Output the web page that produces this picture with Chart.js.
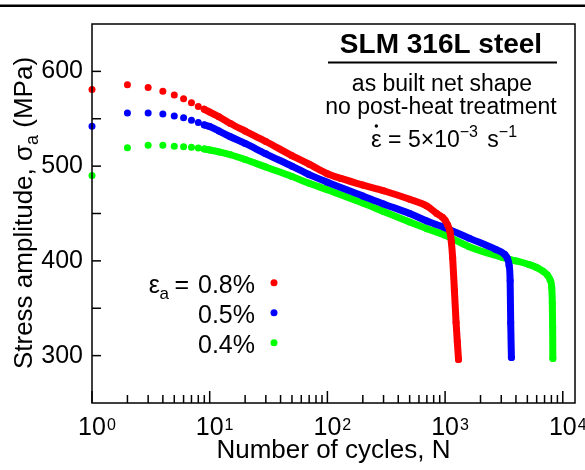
<!DOCTYPE html>
<html>
<head>
<meta charset="utf-8">
<script src="https://cdn.jsdelivr.net/npm/chart.js@4.4.0/dist/chart.umd.min.js"></script>
<style>
  html, body { margin: 0; padding: 0; background: #fff; }
  #wrap { width: 585px; height: 470px; }
</style>
</head>
<body>
<div id="wrap"><canvas id="cyclicChart"></canvas></div>
<script>
// number of cycles N and stress amplitude (MPa)
const redN   = [1, 2, 3, 4, 5, 6, 7, 8, 9, 10, 12, 15, 20, 30, 50, 70, 100, 130, 200, 300, 500, 700, 850, 950, 1000, 1050, 1100, 1130, 1160, 1200, 1240, 1270, 1300];
const redS   = [581, 586, 583, 579, 575, 571, 567, 563, 560, 557, 552, 545, 537, 526, 511, 502, 492, 487, 480, 474, 465, 458, 450, 446, 443, 438, 431, 420, 403, 369, 335, 315, 296];
const blueN  = [1, 2, 3, 4, 5, 6, 7, 8, 9, 10, 12, 15, 20, 30, 50, 70, 100, 200, 300, 500, 700, 1000, 1600, 2700, 3200, 3370, 3500, 3570, 3610, 3660];
const blueS  = [542, 556, 556, 555, 553, 551, 548.5, 546, 543.5, 541.7, 537, 531, 524, 513, 500, 491, 483, 468.5, 460, 450, 442, 435, 424, 412, 407, 403, 395, 379, 335, 298];
const greenN = [1, 2, 3, 4, 5, 6, 7, 8, 9, 10, 12, 15, 20, 30, 50, 70, 100, 200, 300, 500, 700, 1000, 1600, 3000, 4000, 5200, 6000, 6800, 7400, 7800, 8050, 8150, 8200, 8230];
const greenS = [490, 519.5, 522, 522, 521, 520.5, 520, 519, 518, 517, 515, 512, 507, 499, 489, 482, 475, 461, 452, 441, 434, 427, 415, 404, 400, 396, 393, 389, 385, 380, 372, 355, 330, 297];

const strainLabels = ["0.8%", "0.5%", "0.4%"];
const seriesColors = ["#ff0000", "#0000ff", "#00ff00"];
const xTickExponents = { 1: "0", 10: "1", 100: "2", 1000: "3", 10000: "4" };
const yTickLabels = [300, 400, 500, 600];
const noteLines = ["SLM 316L steel", "as built net shape", "no post-heat treatment"];

const FONT = "'Liberation Sans', Arial, sans-serif";
Chart.defaults.font.family = FONT;
Chart.defaults.color = "#000";

const pairs = (ns, ss) => ns.map((n, i) => ({ x: n, y: ss[i] }));

function series(label, ns, ss, color) {
    return {
        label: label,
        data: pairs(ns, ss),
        borderColor: color,
        backgroundColor: color,
        pointBackgroundColor: color,
        pointBorderWidth: 0,
        pointRadius: 3.5,
        borderWidth: 7,
        borderCapStyle: "round",
        borderJoinStyle: "round",
        cubicInterpolationMode: "monotone",
        clip: false,
        // early cycles are single dots, later ones merge into a band
        segment: { borderColor: ctx => ctx.p0.parsed.x < 9 ? "rgba(0,0,0,0)" : undefined }
    };
}

const decor = {
    id: "decor",
    afterDraw(chart) {
        const { ctx, chartArea: a, scales: { x, y } } = chart;
        ctx.save();

        // thick rule along the top of the figure
        ctx.fillStyle = "#000";
        ctx.fillRect(0, 4.5, 585, 2.5);

        // frame and inward ticks
        ctx.strokeStyle = "#000";
        ctx.lineWidth = 1.5;
        ctx.strokeRect(a.left, a.top, a.right - a.left, a.bottom - a.top);
        x.ticks.forEach(t => {
            const e = Math.floor(Math.log10(t.value) + 1e-9);
            const m = t.value / Math.pow(10, e);
            if (Math.abs(m - Math.round(m)) > 1e-6) return;
            const px = x.getPixelForValue(t.value);
            const len = Math.round(m) === 1 ? 12 : 8;
            ctx.beginPath(); ctx.moveTo(px, a.bottom); ctx.lineTo(px, a.bottom - len); ctx.stroke();
        });
        y.ticks.forEach(t => {
            if (t.value <= y.min || t.value >= y.max) return;
            const py = y.getPixelForValue(t.value);
            ctx.beginPath(); ctx.moveTo(a.left, py); ctx.lineTo(a.left + 9, py); ctx.stroke();
        });

        // exponents of the x tick labels
        ctx.fillStyle = "#000";
        ctx.textBaseline = "alphabetic";
        ctx.textAlign = "left";
        ctx.font = "25px " + FONT;
        const baseW = ctx.measureText("10").width;
        ctx.font = "16px " + FONT;
        Object.keys(xTickExponents).forEach(v => {
            const px = x.getPixelForValue(Number(v));
            ctx.fillText(xTickExponents[v], px + baseW / 2 + 1, 429.5);
        });

        // y axis title with subscript
        const big = "26px " + FONT, small = "18px " + FONT;
        const parts = [["Stress amplitude, \u03c3", big, 0], ["a", small, 6], [" (MPa)", big, 0]];
        let w = 0;
        parts.forEach(p => { ctx.font = p[1]; w += ctx.measureText(p[0]).width; });
        ctx.translate(31.5, 213);
        ctx.rotate(-Math.PI / 2);
        let cx = -w / 2;
        parts.forEach(p => { ctx.font = p[1]; ctx.fillText(p[0], cx, p[2]); cx += ctx.measureText(p[0]).width; });
        ctx.setTransform(1, 0, 0, 1, 0, 0);

        // note box
        ctx.textAlign = "center";
        ctx.font = "bold 28px " + FONT;
        ctx.fillText(noteLines[0], 441, 53);
        ctx.fillRect(328, 61.5, 229, 2);
        ctx.font = "23px " + FONT;
        ctx.fillText(noteLines[1], 442, 90.5);
        ctx.fillText(noteLines[2], 441, 113.5);

        ctx.textAlign = "left";
        let ex = 371;
        const eqParts = [["\u03b5", "24px", 0], [" = 5\u00d710", "23px", 0], ["\u22123", "16px", -10], [" s", "23px", 0], ["\u22121", "16px", -10]];
        eqParts.forEach((p, i) => {
            ctx.font = p[1] + " " + FONT;
            ctx.fillText(p[0], ex, 146.5 + p[2]);
            if (i === 0) {
                const ew = ctx.measureText(p[0]).width;
                ctx.beginPath(); ctx.arc(ex + ew / 2, 126, 1.7, 0, 2 * Math.PI); ctx.fill();
            }
            ex += ctx.measureText(p[0]).width + (i === 2 ? 3 : 0);
        });

        // legend
        const rows = [293.3, 323.3, 353.3];
        ctx.font = "25px " + FONT;
        ctx.textAlign = "right";
        strainLabels.forEach((s, i) => {
            ctx.fillText(s, 255, rows[i]);
            ctx.fillStyle = seriesColors[i];
            ctx.beginPath(); ctx.arc(274, rows[i] - 10.5, 3.5, 0, 2 * Math.PI); ctx.fill();
            ctx.fillStyle = "#000";
        });
        ctx.fillText("=", 189, rows[0]);
        ctx.font = "17px " + FONT;
        ctx.fillText("a", 169, rows[0] + 6);
        ctx.font = "25px " + FONT;
        ctx.fillText("\u03b5", 160, rows[0]);

        ctx.restore();
    }
};

new Chart(document.getElementById("cyclicChart"), {
    type: "scatter",
    data: {
        datasets: [
            series(strainLabels[0], redN, redS, seriesColors[0]),
            series(strainLabels[1], blueN, blueS, seriesColors[1]),
            series(strainLabels[2], greenN, greenS, seriesColors[2])
        ]
    },
    options: {
        responsive: true,
        maintainAspectRatio: false,
        animation: false,
        showLine: true,
        layout: { padding: { top: 13, right: 6, left: 0, bottom: 0 } },
        plugins: { legend: { display: false }, tooltip: { enabled: false } },
        scales: {
            x: {
                type: "logarithmic",
                min: 1,
                max: 12700,
                afterFit: s => { s.height = 67; },
                grid: { display: false, drawTicks: false },
                border: { display: false },
                ticks: {
                    autoSkip: false,
                    maxRotation: 0,
                    padding: 10,
                    font: { size: 25 },
                    callback: v => xTickExponents[v] !== undefined ? "10" : ""
                },
                title: { display: true, text: "Number of cycles, N", font: { size: 26 }, padding: { top: 0, bottom: 4 } }
            },
            y: {
                min: 250,
                max: 650,
                afterFit: s => { s.width = 92; },
                grid: { display: false, drawTicks: false },
                border: { display: false },
                ticks: {
                    stepSize: 50,
                    autoSkip: false,
                    padding: 9,
                    font: { size: 25 },
                    callback: v => yTickLabels.includes(v) ? String(v) : ""
                }
            }
        }
    },
    plugins: [decor]
});
</script>
</body>
</html>
